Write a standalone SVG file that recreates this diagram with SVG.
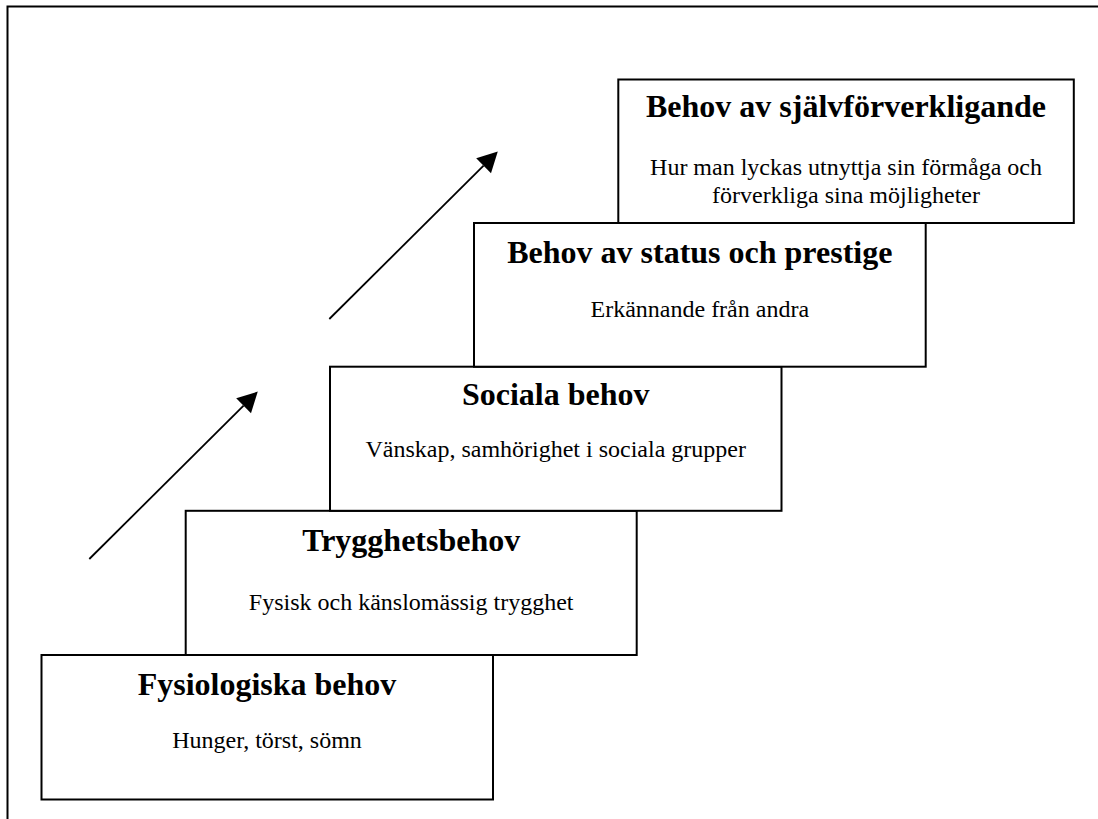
<svg xmlns="http://www.w3.org/2000/svg" width="1098" height="819" viewBox="0 0 1098 819">
  <style>
    .box { fill: #ffffff; stroke: #000000; stroke-width: 2; }
    .title { font-family: "Liberation Serif", "Times New Roman", serif; font-size: 32px; font-weight: bold; text-anchor: middle; fill: #000000; }
    .sub { font-family: "Liberation Serif", "Times New Roman", serif; font-size: 24px; text-anchor: middle; fill: #000000; }
    .frame { fill: none; stroke: #000000; stroke-width: 2; }
    .arrow { fill: none; stroke: #000000; stroke-width: 1.8; marker-end: url(#head); }
  </style>
  <defs>
    <marker id="head" markerUnits="userSpaceOnUse" markerWidth="22" markerHeight="24" refX="0" refY="11" orient="auto" overflow="visible">
      <path d="M0,0.5 L20,11 L0,21.5 Z" fill="#000000"/>
    </marker>
  </defs>

  <rect width="1098" height="819" fill="#ffffff"/>

  <!-- page frame: top and left edges -->
  <path class="frame" d="M7.5,819 V6.5 H1098"/>

  <!-- step 1 -->
  <g id="fysiologiska">
    <rect class="box" x="41.5" y="655" width="451.5" height="144.5"/>
    <text class="title" x="267" y="695">Fysiologiska behov</text>
    <text class="sub" x="267" y="748">Hunger, törst, sömn</text>
  </g>

  <!-- step 2 -->
  <g id="trygghet">
    <rect class="box" x="185.7" y="510.8" width="451" height="144.2"/>
    <text class="title" x="411.2" y="551">Trygghetsbehov</text>
    <text class="sub" x="411.2" y="610">Fysisk och känslomässig trygghet</text>
  </g>

  <!-- step 3 -->
  <g id="sociala">
    <rect class="box" x="330" y="366.7" width="451.5" height="144.1"/>
    <text class="title" x="555.7" y="405">Sociala behov</text>
    <text class="sub" x="555.7" y="457">Vänskap, samhörighet i sociala grupper</text>
  </g>

  <!-- step 4 -->
  <g id="status">
    <rect class="box" x="474" y="223" width="451.7" height="143.7"/>
    <text class="title" x="699.8" y="262.5">Behov av status och prestige</text>
    <text class="sub" x="699.8" y="316.5">Erkännande från andra</text>
  </g>

  <!-- step 5 -->
  <g id="sjalvforverkligande">
    <rect class="box" x="618.3" y="79.5" width="455.5" height="143.5"/>
    <text class="title" x="846" y="117.3">Behov av självförverkligande</text>
    <text class="sub" x="846" y="175">Hur man lyckas utnyttja sin förmåga och</text>
    <text class="sub" x="846" y="203.3">förverkliga sina möjligheter</text>
  </g>

  <!-- rising arrows -->
  <g id="connectors">
    <line class="arrow" x1="89.3" y1="559" x2="243.6" y2="405.7"/>
    <line class="arrow" x1="329.3" y1="319" x2="483.6" y2="165.7"/>
  </g>
</svg>
